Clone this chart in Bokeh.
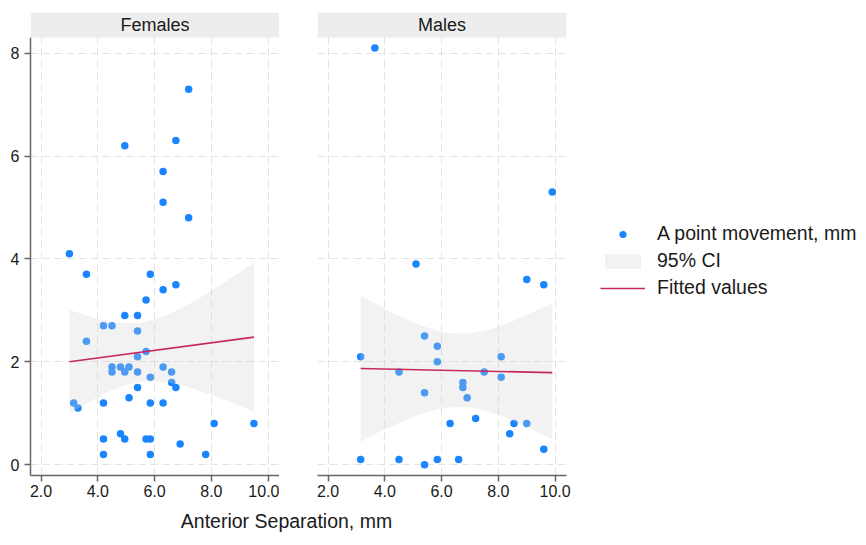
from bokeh.plotting import figure
from bokeh.layouts import row, column
from bokeh.models import Range1d, BoxAnnotation, Label, Legend, LegendItem
from bokeh.embed import file_html
from bokeh.resources import INLINE

# ---- data -------------------------------------------------------------
fem_x = [7.2, 4.95, 6.75, 6.3, 6.3, 7.2, 3.0, 3.6, 5.85, 6.75, 6.3, 5.7, 4.95, 5.4,
         4.2, 4.5, 5.4, 3.6, 5.7, 5.4, 4.5, 4.8, 5.1, 6.3, 4.5, 4.95, 5.4, 6.6, 5.85,
         6.6, 6.75, 5.4, 5.1, 3.15, 3.3, 4.2, 5.85, 6.3, 8.1, 9.5, 6.9, 4.8, 4.95,
         4.2, 5.7, 5.85, 4.2, 5.85, 7.8]
fem_y = [7.3, 6.2, 6.3, 5.7, 5.1, 4.8, 4.1, 3.7, 3.7, 3.5, 3.4, 3.2, 2.9, 2.9,
         2.7, 2.7, 2.6, 2.4, 2.2, 2.1, 1.9, 1.9, 1.9, 1.9, 1.8, 1.8, 1.8, 1.8, 1.7,
         1.6, 1.5, 1.5, 1.3, 1.2, 1.1, 1.2, 1.2, 1.2, 0.8, 0.8, 0.4, 0.6, 0.5,
         0.5, 0.5, 0.5, 0.2, 0.2, 0.2]

male_x = [3.65, 9.9, 5.1, 9.0, 9.6, 5.4, 5.85, 3.15, 5.85, 8.1, 4.5, 7.5, 8.1, 6.75,
          6.75, 5.4, 6.9, 6.3, 7.2, 8.55, 9.0, 8.4, 9.6, 3.15, 4.5, 5.4, 5.85, 6.6]
male_y = [8.1, 5.3, 3.9, 3.6, 3.5, 2.5, 2.3, 2.1, 2.0, 2.1, 1.8, 1.8, 1.7, 1.6,
          1.5, 1.4, 1.3, 0.8, 0.9, 0.8, 0.8, 0.6, 0.3, 0.1, 0.1, 0.0, 0.1, 0.1]

# linear fits
fem_fit_x = [3.0, 9.5]
fem_fit_y = [2.0, 2.48]
male_fit_x = [3.15, 9.9]
male_fit_y = [1.87, 1.79]

# 95% confidence bands of the fits
fem_ci_x = [3.0, 3.5, 4.0, 4.5, 5.0, 5.5, 6.0, 6.5, 7.0, 7.5, 8.0, 8.5, 9.0, 9.5]
fem_ci_lo = [0.99, 1.16, 1.31, 1.45, 1.55, 1.61, 1.62, 1.60, 1.54, 1.45, 1.36, 1.26, 1.14, 1.03]
fem_ci_hi = [3.01, 2.92, 2.83, 2.77, 2.75, 2.76, 2.82, 2.92, 3.06, 3.21, 3.38, 3.56, 3.74, 3.93]

male_ci_x = [3.15, 3.5, 4.0, 4.5, 5.0, 5.5, 6.0, 6.5, 7.0, 7.5, 8.0, 8.5, 9.0, 9.5, 9.9]
male_ci_lo = [0.44, 0.55, 0.69, 0.81, 0.93, 1.02, 1.09, 1.12, 1.11, 1.06, 0.97, 0.86, 0.74, 0.60, 0.49]
male_ci_hi = [3.29, 3.18, 3.03, 2.89, 2.77, 2.66, 2.58, 2.55, 2.55, 2.60, 2.68, 2.79, 2.91, 3.04, 3.14]

x_ticks = [2, 4, 6, 8, 10]
x_tick_labels = ["2.0", "4.0", "6.0", "8.0", "10.0"]
y_ticks = [0, 2, 4, 6, 8]

panel_titles = ["Females", "Males"]
legend_labels = ["A point movement, mm", "95% CI", "Fitted values"]
x_title = "Anterior Separation, mm"

# ---- style ------------------------------------------------------------
FONT = "Liberation Sans"
TEXT = "#1a1a1a"
BLUE = "#1a85ff"
FIT = "#c8285c"
BAND = "#cfcfcf"
AXIS = "#666666"
GRID = "#e4e4e4"
STRIP = "#ededed"

X0, X1 = 1.63, 10.40
Y0, Y1 = -0.21, 8.79
STRIP_BOTTOM = 8.305


def make_panel(title, xs, ys, ci_x, ci_lo, ci_hi, fit_x, fit_y, show_y, border_left):
    p = figure(frame_width=249, frame_height=463,
               x_range=Range1d(X0, X1), y_range=Range1d(Y0, Y1),
               output_backend="svg", toolbar_location=None,
               min_border_left=border_left, min_border_right=0,
               min_border_top=12, min_border_bottom=30)
    p.outline_line_color = None
    p.background_fill_color = "white"
    p.border_fill_color = "white"

    for g in (p.xgrid, p.ygrid):
        g.grid_line_color = GRID
        g.grid_line_dash = "8 4"
        g.grid_line_width = 1

    p.xaxis.ticker = x_ticks
    p.xaxis.major_label_overrides = dict(zip(x_ticks, x_tick_labels))
    p.yaxis.ticker = y_ticks
    for ax in (p.xaxis, p.yaxis):
        ax.axis_line_color = AXIS
        ax.axis_line_width = 1.5
        ax.major_tick_line_color = AXIS
        ax.major_tick_line_width = 1.5
        ax.major_tick_out = 6
        ax.major_tick_in = 0
        ax.minor_tick_line_color = None
        ax.major_label_text_font = FONT
        ax.major_label_text_font_size = "16px"
        ax.major_label_text_color = TEXT
    p.xaxis.major_label_standoff = 3
    p.yaxis.major_label_standoff = 5
    p.yaxis.bounds = (Y0, STRIP_BOTTOM)
    p.yaxis.visible = show_y

    pts = p.scatter(xs, ys, size=7.5, color=BLUE, line_color=None)
    band = p.varea(x=ci_x, y1=ci_lo, y2=ci_hi, fill_color=BAND, fill_alpha=0.28)
    fit = p.line(fit_x, fit_y, line_color=FIT, line_width=1.6)

    # facet header strip
    p.add_layout(BoxAnnotation(bottom=STRIP_BOTTOM, fill_color=STRIP, fill_alpha=1.0,
                               line_color=None))
    p.add_layout(Label(x=(X0 + X1) / 2, y=(STRIP_BOTTOM + Y1) / 2, text=title,
                       text_align="center", text_baseline="middle",
                       text_font=FONT, text_font_size="18px", text_color=TEXT))
    return p, pts, band, fit


fem, _, _, _ = make_panel(panel_titles[0], fem_x, fem_y, fem_ci_x, fem_ci_lo, fem_ci_hi,
                          fem_fit_x, fem_fit_y, True, 30)
male, m_pts, m_band, m_fit = make_panel(panel_titles[1], male_x, male_y, male_ci_x,
                                        male_ci_lo, male_ci_hi, male_fit_x, male_fit_y,
                                        False, 38)
male.min_border_right = 300

legend = Legend(items=[LegendItem(label=legend_labels[0], renderers=[m_pts]),
                       LegendItem(label=legend_labels[1], renderers=[m_band]),
                       LegendItem(label=legend_labels[2], renderers=[m_fit])],
                location=(34, 176), glyph_width=45, glyph_height=18,
                label_height=20, spacing=4, padding=5, margin=0, label_standoff=12,
                label_text_font=FONT, label_text_font_size="19.5px",
                label_text_color=TEXT, border_line_color=None,
                background_fill_alpha=0)
male.add_layout(legend, "right")

# shared x-axis title under both panels
xlab = figure(width=866, height=40, x_range=Range1d(0, 866), y_range=Range1d(0, 40),
              output_backend="svg", toolbar_location=None,
              x_axis_location=None, y_axis_location=None, min_border=0)
xlab.outline_line_color = None
xlab.grid.visible = False
xlab.add_layout(Label(x=286, y=25, text=x_title, text_align="center",
                      text_baseline="middle", text_font=FONT, text_font_size="19.5px",
                      text_color=TEXT))

layout = column(row(fem, male), xlab)

with open("out.html", "w") as f:
    f.write(file_html(layout, INLINE))
